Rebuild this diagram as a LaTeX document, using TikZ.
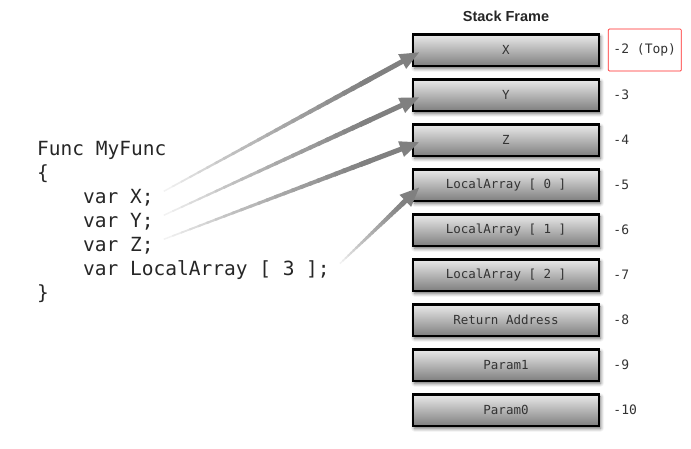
\documentclass[tikz,border=0pt]{standalone}
\usepackage{fontspec}
\setmonofont{DejaVu Sans Mono}
\newfontfamily\titlefont{Liberation Sans}
\usepackage{tikz}
\usetikzlibrary{calc}
\usetikzlibrary{positioning}
\usetikzlibrary{fit}
\usetikzlibrary{arrows.meta}
\usetikzlibrary{shadows.blur}
\tikzset{slot/.style={draw=black, line width=2.5pt, top color=black!8, bottom color=black!50,
    minimum width=186pt, minimum height=31.5pt, inner sep=0pt, text=black!80,
    font=\ttfamily\fontsize{12.5}{14}\selectfont,
    blur shadow={shadow xshift=1.5pt, shadow yshift=-2.5pt, shadow blur radius=3.5pt, shadow opacity=60}}}
\tikzset{offset/.style={right=8pt of #1, inner xsep=5pt, inner ysep=0pt, text=black!80,
    font=\ttfamily\fontsize{13}{15}\selectfont}}
\tikzset{codeline/.style={anchor=base west, inner sep=0pt, text=black!85,
    font=\ttfamily\fontsize{19.5}{22}\selectfont}}

% shaded arrow from #1 to #2, light at the tail
\newcommand{\fadearrow}[2]{%
  \foreach \i in {0,...,23} {
    \pgfmathtruncatemacro{\tone}{50*((\i+1)/24)^0.7}
    \draw[line width={1.5pt+0.15pt*\i}, black!\tone] ($(#1)!{\i/30}!(#2)$) -- ($(#1)!{(\i+1.3)/30}!(#2)$);
  }
  \draw[line width=5pt, black!50, -{Triangle[length=20pt, width=15pt]}] ($(#1)!0.78!(#2)$) -- (#2);
}

\begin{document}
\begin{tikzpicture}[x=1pt,y=-1pt]
  \useasboundingbox (0,0) rectangle (691,448);

  \node[font=\titlefont\bfseries\fontsize{14.5}{16}\selectfont, text=black!85] (title) at (506,16) {Stack Frame};

  \foreach \nm/\txt/\off [count=\k from 0] in {
    X/X/{-2 (Top)},
    Y/Y/-3,
    Z/Z/-4,
    LAa/{LocalArray [ 0 ]}/-5,
    LAb/{LocalArray [ 1 ]}/-6,
    LAc/{LocalArray [ 2 ]}/-7,
    Ret/{Return Address}/-8,
    Pb/Param1/-9,
    Pa/Param0/-10%
  } {
    \node[slot] (box\nm) at (506, 50+45*\k) {\txt};
    \node[offset=box\nm] (off\nm) {\off};
  }
  \node[draw=red!85, line width=0.7pt, rounded corners=1pt, fit=(offX), inner xsep=0pt, inner ysep=14.5pt] (top) {};

  % the code
  \node[codeline] (head) at (37,155) {Func MyFunc};
  \node[codeline] (open) at (37,179) {\{};
  \node[codeline] (codeX) at (83,203) {var X;};
  \node[codeline] (codeY) at (83,227) {var Y;};
  \node[codeline] (codeZ) at (83,251) {var Z;};
  \node[codeline] (codeLA) at (83,275) {var LocalArray [ 3 ];};
  \node[codeline] (close) at (37,299) {\}};

  \foreach \src/\dst in {codeX/boxX, codeY/boxY, codeZ/boxZ, codeLA/boxLAa} {
    \coordinate (from\src) at ($(\src.east)+(10,-6)$);
    \coordinate (to\dst) at ($(\dst.west)+(8,2)$);
    \fadearrow{from\src}{to\dst}
  }
\end{tikzpicture}
\end{document}
